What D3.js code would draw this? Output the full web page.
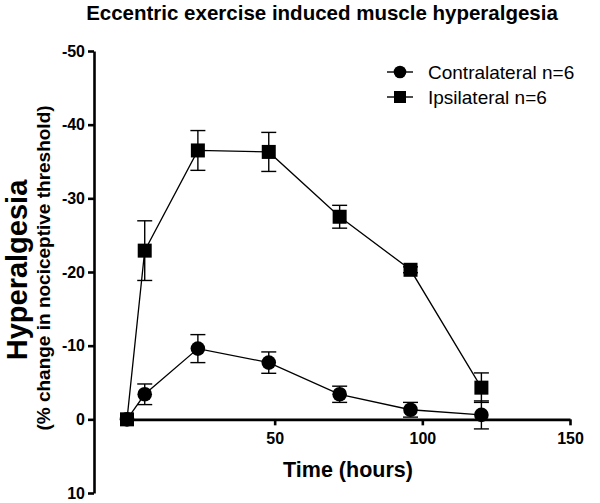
<!DOCTYPE html>
<html>
<head>
<meta charset="utf-8">
<script src="https://cdn.jsdelivr.net/npm/d3@7"></script>
<style>
  html, body { margin: 0; padding: 0; background: #fff; }
  svg { display: block; font-family: "Liberation Sans", Arial, Helvetica, sans-serif; }
</style>
</head>
<body>
<svg id="chart" width="600" height="503"></svg>
<script>
// ---- data ----
const times = [0, 6, 24, 48, 72, 96, 120];
const contralateralMean = [0, -3.4, -9.6, -7.7, -3.4, -1.3, -0.6];
const contralateralSEM  = [0, 1.4, 1.9, 1.45, 1.1, 1.0, 1.9];
const ipsilateralMean   = [0, -22.9, -36.5, -36.3, -27.5, -20.3, -4.3];
const ipsilateralSEM    = [0, 4.05, 2.7, 2.65, 1.55, 0.4, 2.0];
const yTicks = [-50, -40, -30, -20, -10, 0, 10];
const xTicks = [50, 100, 150];
const seriesNames = ["Contralateral n=6", "Ipsilateral n=6"];

const svg = d3.select("#chart");
const x = d3.scaleLinear().domain([0, 150]).range([127, 570]);
const y = d3.scaleLinear().domain([-50, 10]).range([51, 493]);
const axisX = 94;

// title
svg.append("text")
  .attr("x", 322).attr("y", 20)
  .attr("text-anchor", "middle")
  .attr("font-weight", "bold").attr("font-size", 20.5)
  .text("Eccentric exercise induced muscle hyperalgesia");

// y axis
const gy = svg.append("g").attr("transform", `translate(${axisX},0)`)
  .call(d3.axisLeft(y).tickValues(yTicks).tickSize(6).tickSizeOuter(0).tickFormat(d => d3.format("d")(d).replace("−", "-")));
gy.select(".domain").attr("stroke-width", 2.6);
gy.selectAll(".tick line").attr("stroke-width", 2.6);
gy.selectAll(".tick text").attr("font-size", 16).attr("font-weight", "bold")
  .attr("font-family", "Liberation Sans, Arial, sans-serif").attr("fill", "#000").attr("x", -9);

// x axis
const gx = svg.append("g").attr("transform", `translate(0,${y(0)})`)
  .call(d3.axisBottom(x).tickValues(xTicks).tickSize(6).tickSizeOuter(0));
gx.select(".domain").attr("stroke-width", 2.6);
gx.selectAll(".tick line").attr("stroke-width", 2.6);
gx.selectAll(".tick text").attr("font-size", 16).attr("font-weight", "bold")
  .attr("font-family", "Liberation Sans, Arial, sans-serif").attr("fill", "#000").attr("y", 13);

// axis titles
svg.append("text")
  .attr("x", 348).attr("y", 477)
  .attr("text-anchor", "middle")
  .attr("font-weight", "bold").attr("font-size", 21.5)
  .text("Time (hours)");

svg.append("text")
  .attr("transform", "translate(27,270) rotate(-90)")
  .attr("text-anchor", "middle")
  .attr("font-weight", "bold").attr("font-size", 29)
  .text("Hyperalgesia");

svg.append("text")
  .attr("transform", "translate(50,268) rotate(-90)")
  .attr("text-anchor", "middle")
  .attr("font-weight", "bold").attr("font-size", 19)
  .text("(% change in nociceptive threshold)");

// series
const series = [
  { name: seriesNames[0], mean: contralateralMean, sem: contralateralSEM, shape: "circle" },
  { name: seriesNames[1], mean: ipsilateralMean, sem: ipsilateralSEM, shape: "square" }
];

const line = d3.line().x(d => x(d.t)).y(d => y(d.m));
const capW = 7.5;

series.forEach(s => {
  const pts = times.map((t, i) => ({ t, m: s.mean[i], e: s.sem[i] }));
  const g = svg.append("g");
  // error bars
  pts.filter(p => p.e > 0).forEach(p => {
    const cx = x(p.t), y1 = y(p.m - p.e), y2 = y(p.m + p.e);
    g.append("line").attr("x1", cx).attr("x2", cx).attr("y1", y1).attr("y2", y2)
      .attr("stroke", "#000").attr("stroke-width", 1.4);
    [y1, y2].forEach(yy => g.append("line")
      .attr("x1", cx - capW).attr("x2", cx + capW).attr("y1", yy).attr("y2", yy)
      .attr("stroke", "#000").attr("stroke-width", 1.4));
  });
  g.append("path").attr("d", line(pts)).attr("fill", "none")
    .attr("stroke", "#000").attr("stroke-width", 1.3);
  pts.forEach(p => {
    if (s.shape === "circle") {
      g.append("circle").attr("cx", x(p.t)).attr("cy", y(p.m)).attr("r", 7.3).attr("fill", "#000");
    } else {
      g.append("rect").attr("x", x(p.t) - 7).attr("y", y(p.m) - 7)
        .attr("width", 14).attr("height", 14).attr("fill", "#000");
    }
  });
});

// legend
const leg = svg.append("g");
series.forEach((s, i) => {
  const ly = 72 + i * 25;
  leg.append("line").attr("x1", 387).attr("x2", 413).attr("y1", ly).attr("y2", ly)
    .attr("stroke", "#000").attr("stroke-width", 1.4);
  if (s.shape === "circle") {
    leg.append("circle").attr("cx", 400).attr("cy", ly).attr("r", 6.3).attr("fill", "#000");
  } else {
    leg.append("rect").attr("x", 394).attr("y", ly - 6).attr("width", 12).attr("height", 12).attr("fill", "#000");
  }
  leg.append("text").attr("x", 428).attr("y", ly + 6.5)
    .attr("font-size", 19).text(s.name);
});
</script>
</body>
</html>
